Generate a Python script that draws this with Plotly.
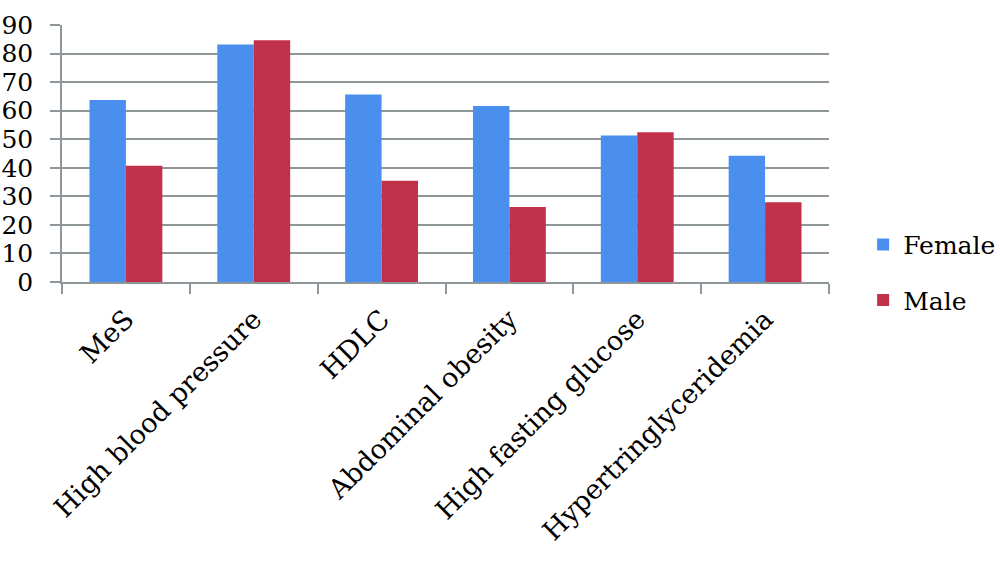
import plotly.graph_objects as go

categories = ["MeS", "High blood pressure", "HDLC", "Abdominal obesity",
              "High fasting glucose", "Hypertringlyceridemia"]
female = [63.7, 83.2, 65.7, 61.6, 51.3, 44.2]
male = [40.7, 84.7, 35.5, 26.3, 52.4, 27.9]
y_ticks = [0, 10, 20, 30, 40, 50, 60, 70, 80, 90]

FONT = "DejaVu Serif"
GRID = "#8E9699"

fig = go.Figure()
fig.add_trace(go.Bar(x=categories, y=female, name="Female",
                     marker=dict(color="#4A8FEE", line=dict(width=0)),
                     legendgroup="f"))
fig.add_trace(go.Bar(x=categories, y=male, name="Male",
                     marker=dict(color="#C2314A", line=dict(width=0)),
                     legendgroup="m"))

fig.update_layout(
    width=1000, height=565,
    margin=dict(l=62, r=171, t=25, b=283, autoexpand=False),
    paper_bgcolor="white", plot_bgcolor="white",
    barmode="group", bargap=0.43, bargroupgap=0,
    font=dict(family=FONT, color="black", size=25),
    showlegend=True,
    legend=dict(x=1.0445, xanchor="left", y=0.038, yanchor="middle",
                font=dict(family=FONT, size=25, color="black"),
                traceorder="grouped", tracegroupgap=20,
                bgcolor="rgba(0,0,0,0)"),
    xaxis=dict(
        type="category", tickangle=-45,
        tickfont=dict(family=FONT, size=27, color="black"),
        showline=True, linecolor=GRID, linewidth=1.5,
        ticks="outside", tickson="boundaries", ticklen=10, tickcolor=GRID,
        tickwidth=1.5, showgrid=False, ticklabelstandoff=9,
    ),
    yaxis=dict(
        range=[0, 90], tickvals=y_ticks,
        tickfont=dict(family=FONT, size=25, color="black"),
        showline=True, linecolor=GRID, linewidth=1.5,
        ticks="outside", ticklen=10, tickcolor=GRID, tickwidth=1.5,
        showgrid=True, gridcolor=GRID, gridwidth=1.5,
        zeroline=False, ticklabelstandoff=12,
    ),
)

fig.write_html("out.html")
